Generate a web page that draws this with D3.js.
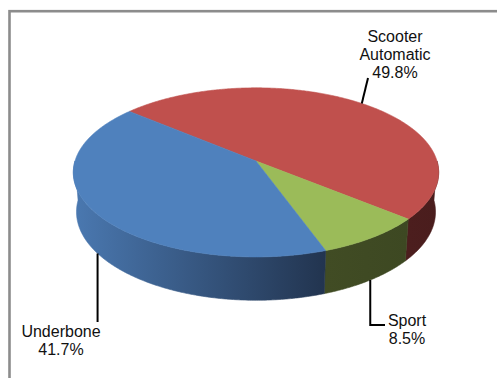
<!DOCTYPE html>
<html>
<head>
<meta charset="utf-8">
<script src="https://cdn.jsdelivr.net/npm/d3@7"></script>
<style>
  html, body { margin: 0; padding: 0; background: #fff; }
  svg { display: block; }
</style>
</head>
<body>
<div id="chart"></div>
<script>
// data
const categories = ["Scooter Automatic", "Sport", "Underbone"];
const values = [49.8, 8.5, 41.7];
const labelLines = [["Scooter", "Automatic", "49.8%"], ["Sport", "8.5%"], ["Underbone", "41.7%"]];

const topColors = ["#C0504D", "#9BBB59", "#4F81BD"];
const sideColors = [["#4C1E1E", "#4A1D1D"], ["#414C24", "#3D4822"], ["#4A78B0", "#22344F"]];

const W = 497, H = 378;
const svg = d3.select("#chart").append("svg").attr("width", W).attr("height", H);

// frame
svg.append("rect").attr("x", 9.5).attr("y", 11.2).attr("width", 520).attr("height", 400)
  .attr("fill", "none").attr("stroke", "#8c8c8c").attr("stroke-width", 2.6);

// perspective projection of a 3d disk (radius 1, thickness T)
const cx = 256, cy = 161;
const phi = 27.3 * Math.PI / 180, D = 6.6, F = 181 * D, T = 0.248;
function proj(theta, h) {
  const X = Math.cos(theta), Z = Math.sin(theta), Y = -h * T;
  const yc = Y * Math.cos(phi) + Z * Math.sin(phi);
  const zc = D + Z * Math.cos(phi) - Y * Math.sin(phi);
  return [cx + F * X / zc, cy - F * yc / zc];
}

// pie angles: d3 goes clockwise from 12 o'clock; convert to math angle
const startDeg = -49.5;
const arcs = d3.pie().sort(null).value(d => d)
  .startAngle(startDeg * Math.PI / 180).endAngle(startDeg * Math.PI / 180 + 2 * Math.PI)(values);
const toTheta = a => Math.PI / 2 - a;
const line = d3.line();
const step = Math.PI / 360;

function sample(t0, t1, h) {
  const n = Math.max(2, Math.ceil(Math.abs(t1 - t0) / step));
  return d3.range(n + 1).map(i => proj(t0 + (t1 - t0) * i / n, h));
}

const defs = svg.append("defs");

// sides (front half only: theta in [-PI, 0])
arcs.forEach((d, i) => {
  let t0 = toTheta(d.endAngle), t1 = toTheta(d.startAngle); // t0 < t1
  while (t1 > Math.PI) { t0 -= 2 * Math.PI; t1 -= 2 * Math.PI; }
  const a = Math.max(t0, -Math.PI), b = Math.min(t1, 0);
  if (a >= b) return;
  const gid = "side" + i;
  const g = defs.append("linearGradient").attr("id", gid).attr("gradientUnits", "userSpaceOnUse")
    .attr("x1", proj(a, 0)[0]).attr("x2", proj(b, 0)[0]).attr("y1", 0).attr("y2", 0);
  g.append("stop").attr("offset", 0).attr("stop-color", sideColors[i][0]);
  g.append("stop").attr("offset", 1).attr("stop-color", sideColors[i][1]);
  const pts = sample(a, b, 0).concat(sample(b, a, 1));
  svg.append("path").attr("d", line(pts) + "Z").attr("fill", `url(#${gid})`)
    .attr("stroke", `url(#${gid})`).attr("stroke-width", 0.6);
});

// top faces
arcs.forEach((d, i) => {
  const t0 = toTheta(d.startAngle), t1 = toTheta(d.endAngle);
  const pts = [[cx, cy]].concat(sample(t0, t1, 0));
  svg.append("path").attr("d", line(pts) + "Z").attr("fill", topColors[i])
    .attr("stroke", topColors[i]).attr("stroke-width", 0.6);
});

// labels + leader lines
const labelPos = [{ x: 395, y: 41.5, anchorH: 0 }, { x: 407, y: 326, anchorH: 1 }, { x: 61, y: 337, anchorH: 1 }];
const lineH = 18.3;
const lab = svg.append("g").attr("font-family", "'Liberation Sans', Arial, sans-serif")
  .attr("font-size", "16px").attr("fill", "#111").attr("text-anchor", "middle");

arcs.forEach((d, i) => {
  const mid = toTheta((d.startAngle + d.endAngle) / 2);
  const p = proj(mid, labelPos[i].anchorH);
  let pts;
  if (i === 0) pts = [p, [368, 78]];
  else if (i === 1) pts = [p, [p[0], 325], [385, 325]];
  else pts = [p, [p[0], 322]];
  svg.append("path").attr("d", line(pts)).attr("fill", "none").attr("stroke", "#000").attr("stroke-width", 2);

  const t = lab.append("text").attr("x", labelPos[i].x).attr("y", labelPos[i].y);
  labelLines[i].forEach((s, k) => t.append("tspan").attr("x", labelPos[i].x).attr("dy", k ? lineH : 0).text(s));
});
</script>
</body>
</html>
